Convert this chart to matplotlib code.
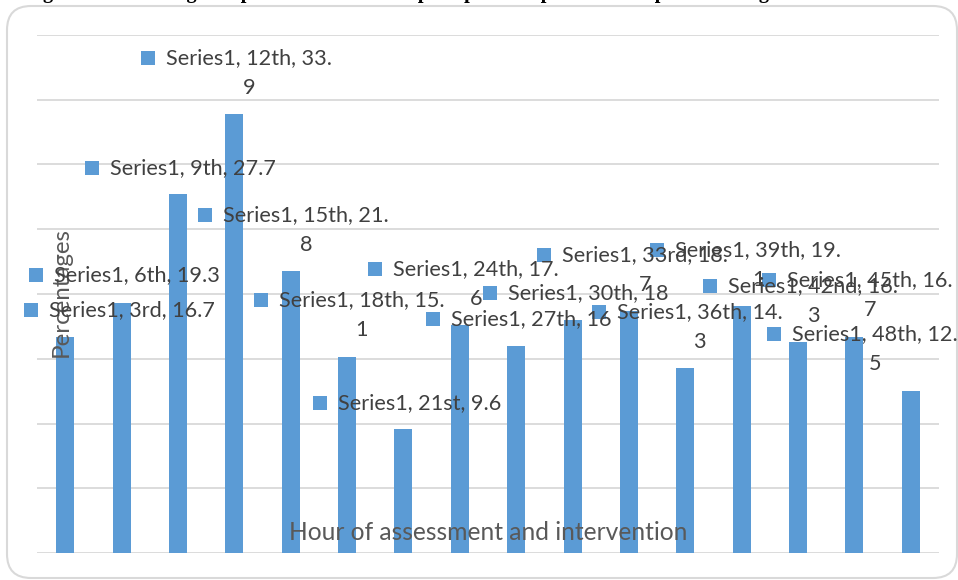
import numpy as np
import matplotlib
matplotlib.use("Agg")
import matplotlib.pyplot as plt
from matplotlib.patches import FancyBboxPatch, Rectangle
from matplotlib.transforms import IdentityTransform

# data
hours = ['3rd', '6th', '9th', '12th', '15th', '18th', '21st', '24th',
         '27th', '30th', '33rd', '36th', '39th', '42nd', '45th', '48th']
percent = [16.7, 19.3, 27.7, 33.9, 21.8, 15.1, 9.6, 17.6,
           16, 18, 18.7, 14.3, 19.1, 16.3, 16.7, 12.5]
series_name = 'Series1'
x_title = 'Hour of assessment and intervention'
y_title = 'Percentages'

# where excel dropped each data label (key left x, first line centre y), pixels from top-left
label_pos = [(24, 310), (29, 275), (85, 168), (141, 58), (198, 215), (254, 300),
             (313, 403), (368, 269), (426, 319), (483, 293), (537, 255), (592, 312),
             (650, 250), (703, 286), (762, 280), (767, 334)]

W, H = 958, 580
bar_col = '#5B9BD5'
grid_col = '#D9D9D9'
txt_col = '#404040'
font = 'Lato'

fig = plt.figure(figsize=(W / 100, H / 100), dpi=100)
renderer = fig.canvas.get_renderer()


def px(x, y):
    # pixel from top-left -> display coords
    return x, H - y


def fit_size(text, width_px, family=font, weight='normal'):
    t = fig.text(0, 0, text, fontsize=10, family=family, weight=weight)
    w = t.get_window_extent(renderer=renderer).width
    t.remove()
    return 10 * width_px / w


# outer chart border
fig.add_artist(FancyBboxPatch(px(7, 578), 950, 572,
                              boxstyle='round,pad=0,rounding_size=24',
                              transform=IdentityTransform(), fc='white',
                              ec=grid_col, lw=1.5, zorder=0))

# caption cut off at the top of the crop, only the bottom of the glyphs shows
cap = 'Figure 2: Percentages of patients with severe postoperative pain and the pharmacological intervention'
fig.text(25 / W, 1 + 2 / H, cap, fontsize=fit_size(cap, 890, 'Liberation Serif', 'bold'),
         family='Liberation Serif', weight='bold', color='black', va='baseline', ha='left')

ax = fig.add_axes([37 / W, 1 - 553 / H, 902 / W, 518 / H])
ax.set_zorder(1)
ax.patch.set_alpha(0)
x = np.arange(len(hours))
ax.bar(x, percent, width=0.32, color=bar_col, zorder=2)
ax.set_xlim(-0.5, len(hours) - 0.5)
ax.set_ylim(0, 40)
ax.set_yticks(np.arange(0, 41, 5))
ax.grid(axis='y', color=grid_col, lw=1.3, zorder=0)
ax.tick_params(left=False, bottom=False, labelleft=False, labelbottom=False)
for s in ax.spines.values():
    s.set_visible(False)

# axis titles sit inside the plot area in the original
fs_y = fit_size(y_title, 130)
fig.text(61 / W, 1 - 292 / H, y_title, rotation=90, fontsize=fs_y, family=font,
         color='#595959', ha='center', va='center', zorder=5)
fs_x = fit_size(x_title, 399)
fig.text(488 / W, 1 - 533 / H, x_title, fontsize=fs_x, family=font,
         color='#595959', ha='center', va='center', zorder=5)

# data labels with legend key
fs = fit_size('Series1, 9th, 27.7', 166)
for h, v, (kx, ky) in zip(hours, percent, label_pos):
    full = f'{series_name}, {h}, {v:g}'
    lines = [full[:-1], full[-1]] if len(full) > 18 else [full]
    fig.add_artist(Rectangle(px(kx, ky + 7), 14, 14, transform=IdentityTransform(),
                             fc=bar_col, ec='none', zorder=6))
    t = fig.text((kx + 25) / W, 1 - ky / H, lines[0], fontsize=fs, family=font,
                 color=txt_col, ha='left', va='center', zorder=7)
    if len(lines) > 1:
        wl = t.get_window_extent(renderer=renderer).width
        fig.text((kx + 25 + wl / 2) / W, 1 - (ky + 30) / H, lines[1], fontsize=fs,
                 family=font, color=txt_col, ha='center', va='center', zorder=7)

fig.savefig('out.png', dpi=100)
